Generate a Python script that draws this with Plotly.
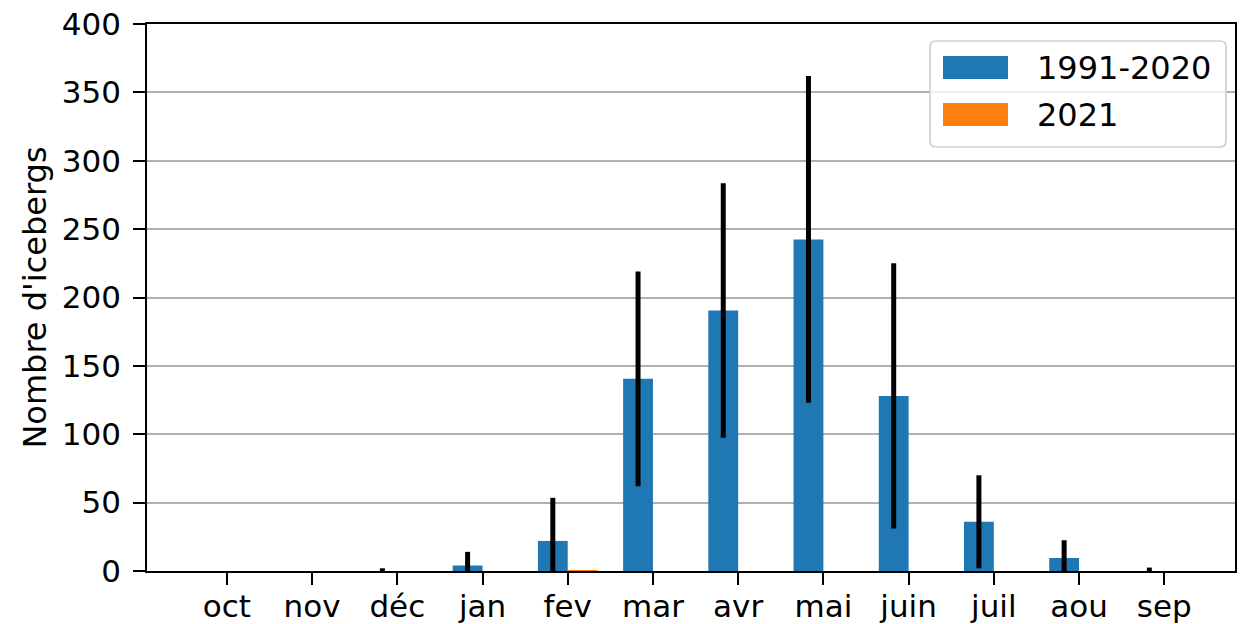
import plotly.graph_objects as go

months = ["oct", "nov", "déc", "jan", "fev", "mar", "avr", "mai", "juin", "juil", "aou", "sep"]
series_names = ["1991-2020", "2021"]
mean_1991_2020 = [0, 0, 0, 4, 22, 140.5, 190.5, 242.5, 128, 36, 9.5, 0]
std_1991_2020 = [0, 0, 2, 10, 31.5, 78.5, 93, 119.5, 97, 34, 13, 2.5]
vals_2021 = [0, 0, 0, 0, 0.7, 0, 0, 0, 0, 0, 0, 0]
y_ticks = [0, 50, 100, 150, 200, 250, 300, 350, 400]

BLUE = "#1f77b4"
ORANGE = "#ff7f0e"
FONT = "DejaVu Sans"
FS = 31

W, H = 1243, 624
L, R, T, B = 147, 1235, 24, 571

pos = list(range(len(months)))

fig = go.Figure()
fig.add_trace(go.Bar(
    x=pos, y=mean_1991_2020, width=0.35, offset=-0.35,
    marker=dict(color=BLUE, line=dict(width=0)),
    error_y=dict(type="data", array=std_1991_2020, visible=True,
                 color="black", thickness=5, width=0),
    name=series_names[0], showlegend=False,
))
fig.add_trace(go.Bar(
    x=pos, y=vals_2021, width=0.35, offset=0,
    marker=dict(color=ORANGE, line=dict(width=0)),
    name=series_names[1], showlegend=False,
))

def px2paper(x, y):
    return (x - L) / (R - L), (B - y) / (B - T)

# custom legend (matplotlib-like)
x0, y0, x1, y1, r = 930, 41, 1226, 147, 6
def P(x, y):
    a, b = px2paper(x, y)
    return f"{a:.5f},{b:.5f}"
path = (f"M{P(x0 + r, y0)} L{P(x1 - r, y0)} Q{P(x1, y0)} {P(x1, y0 + r)} "
        f"L{P(x1, y1 - r)} Q{P(x1, y1)} {P(x1 - r, y1)} "
        f"L{P(x0 + r, y1)} Q{P(x0, y1)} {P(x0, y1 - r)} "
        f"L{P(x0, y0 + r)} Q{P(x0, y0)} {P(x0 + r, y0)} Z")
shapes = [dict(type="path", path=path, xref="paper", yref="paper",
               fillcolor="rgba(255,255,255,0.8)",
               line=dict(color="#d0d0d0", width=1.7), layer="above")]
annotations = []
rows = [(56, 79), (103, 126)]
for (ya, yb), name, col in zip(rows, series_names, [BLUE, ORANGE]):
    ax0, ay0 = px2paper(943, yb)
    ax1, ay1 = px2paper(1008, ya)
    shapes.append(dict(type="rect", xref="paper", yref="paper",
                       x0=ax0, y0=ay0, x1=ax1, y1=ay1,
                       fillcolor=col, line=dict(width=0), layer="above"))
    tx, ty = px2paper(1035, (ya + yb) / 2)
    annotations.append(dict(x=tx, y=ty, xref="paper", yref="paper",
                            text=name, showarrow=False, xanchor="left",
                            yanchor="middle",
                            font=dict(family=FONT, size=32, color="black")))

fig.update_layout(
    width=W, height=H,
    margin=dict(l=L, r=W - R, t=T, b=H - B, pad=0, autoexpand=False),
    paper_bgcolor="white", plot_bgcolor="white",
    barmode="overlay",
    font=dict(family=FONT, size=FS, color="black"),
    shapes=shapes, annotations=annotations,
    xaxis=dict(
        range=[-0.937, 11.83], tickvals=pos, ticktext=months,
        showline=True, mirror=True, linecolor="black", linewidth=1.7,
        ticks="outside", ticklen=12, tickwidth=1.7, tickcolor="black",
        showgrid=False, zeroline=False, ticklabelstandoff=-5,
        tickfont=dict(family=FONT, size=FS), automargin=False,
    ),
    yaxis=dict(
        range=[0, 400], tickvals=y_ticks,
        showline=True, mirror=True, linecolor="black", linewidth=1.7,
        ticks="outside", ticklen=12, tickwidth=1.7, tickcolor="black",
        showgrid=True, gridcolor="#b0b0b0", gridwidth=1.7, zeroline=False,
        ticklabelstandoff=6, automargin=False,
        tickfont=dict(family=FONT, size=FS),
        title=dict(text="Nombre d'icebergs", font=dict(family=FONT, size=32),
                   standoff=6),
    ),
)

fig.write_html("out.html")
